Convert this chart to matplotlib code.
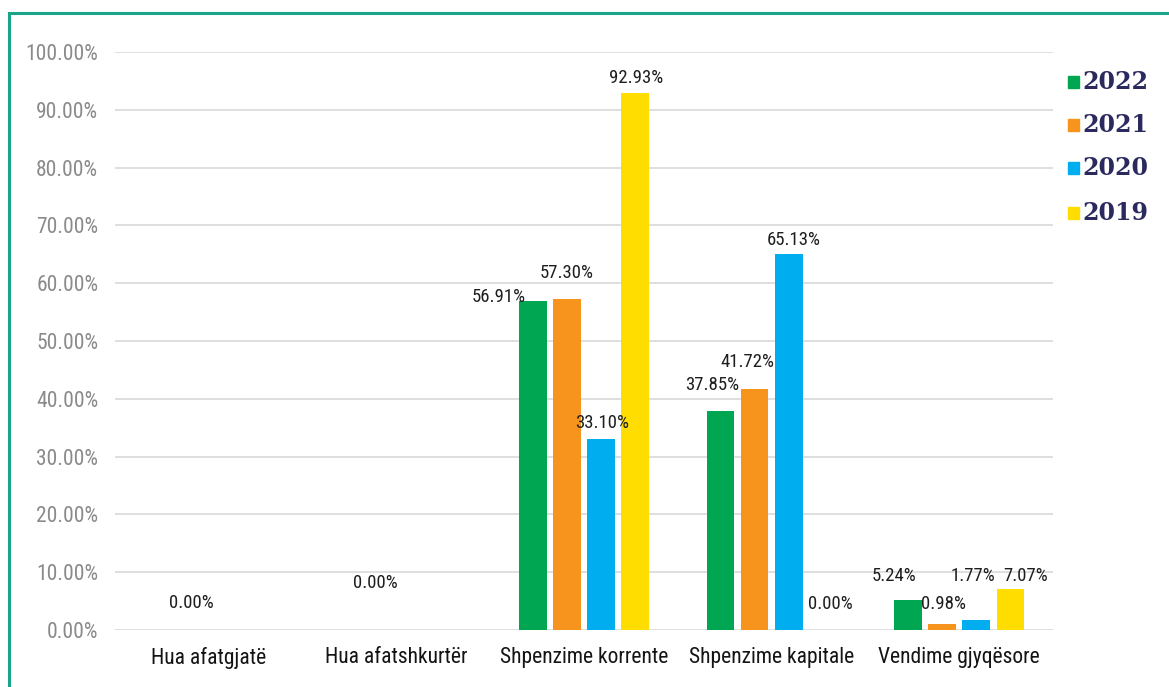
import numpy as np
import matplotlib
matplotlib.use("Agg")
import matplotlib.pyplot as plt
from matplotlib import font_manager
from matplotlib.patches import Rectangle

# ---- data ----
categories = ["Hua afatgjatë", "Hua afatshkurtër", "Shpenzime korrente",
              "Shpenzime kapitale", "Vendime gjyqësore"]
series_names = ["2022", "2021", "2020", "2019"]
v2022 = [np.nan, np.nan, 56.91, 37.85, 5.24]
v2021 = [0.00, 0.00, 57.30, 41.72, 0.98]
v2020 = [np.nan, np.nan, 33.10, 65.13, 1.77]
v2019 = [np.nan, np.nan, 92.93, 0.00, 7.07]
yticks = [0, 10, 20, 30, 40, 50, 60, 70, 80, 90, 100]

series = [v2022, v2021, v2020, v2019]
colors = ["#00a651", "#f7941d", "#00aeef", "#ffdd00"]

# label offsets in pixels (dx, dy) relative to bar top centre, per series/category
label_offsets = {
    (1, 0): (0, 27), (1, 1): (-4, 47),
    (0, 2): (-34, 4), (1, 2): (0, 26), (2, 2): (1, 16), (3, 2): (1, 15),
    (0, 3): (-8, 26), (1, 3): (-7, 27), (2, 3): (5, 14), (3, 3): (8, 26),
    (0, 4): (-14, 24), (1, 4): (1, 20), (2, 4): (-3, 44), (3, 4): (15, 13),
}

# ---- fonts ----
names = {f.name for f in font_manager.fontManager.ttflist}
cond = None
for cand in ["Roboto Condensed", "Liberation Sans Narrow", "DejaVu Sans Condensed", "Open Sans Condensed"]:
    if cand in names:
        cond = cand
        break
if cond is None:
    cond = "DejaVu Sans"
plt.rcParams['font.family'] = [cond, 'DejaVu Sans']

W, H = 1169, 687
fig = plt.figure(figsize=(W / 100, H / 100), dpi=100)
ax = fig.add_axes([115 / W, (H - 630) / H, (1053 - 115) / W, (630 - 52) / H])

n = len(categories)
x = np.arange(n)
slot = 0.182
bw = 0.148
for i, (vals, c) in enumerate(zip(series, colors)):
    xs = x + (i - 1.5) * slot
    ax.bar(xs, vals, width=bw, color=c, zorder=3)
    for j, v in enumerate(vals):
        if np.isnan(v):
            continue
        dx, dy = label_offsets.get((i, j), (0, 14))
        ax.annotate(f"{v:.2f}%", (xs[j], v), xytext=(dx, dy),
                    textcoords="offset pixels", ha="center", va="center",
                    fontsize=13.5, color="#1e1e1e", zorder=4)

ax.set_xlim(-0.5, n - 0.5)
ax.set_ylim(0, 100)
ax.set_yticks(yticks)
ax.set_yticklabels([f"{t:.2f}%" for t in yticks], fontsize=15.5, color="#8a8a8a")
ax.set_xticks(x)
ax.set_xticklabels(categories, fontsize=15.5, color="#141414")
ax.tick_params(axis="both", length=0)
ax.tick_params(axis="y", pad=12)
ax.tick_params(axis="x", pad=12)
ax.grid(axis="y", color="#d9d9d9", linewidth=1.2, zorder=0)
for s in ax.spines.values():
    s.set_visible(False)

# legend (custom)
leg_y = [82, 125, 168, 213]
for name, c, yy in zip(series_names, colors, leg_y):
    fig.patches.append(Rectangle((1068 / W, (H - yy - 6) / H), 11 / W, 12 / H,
                                 transform=fig.transFigure, color=c))
    fig.text(1082 / W, (H - yy) / H, name, fontsize=17, fontweight="bold",
             family="DejaVu Serif", color="#2b2a5e", va="center", ha="left")

# frame
fig.patches.append(Rectangle((8.5 / W, -0.1), 1.2, (H - 12.5) / H + 0.1,
                             transform=fig.transFigure, fill=False,
                             edgecolor="#1aa58a", linewidth=2.2))

fig.savefig("out.png", dpi=100)
